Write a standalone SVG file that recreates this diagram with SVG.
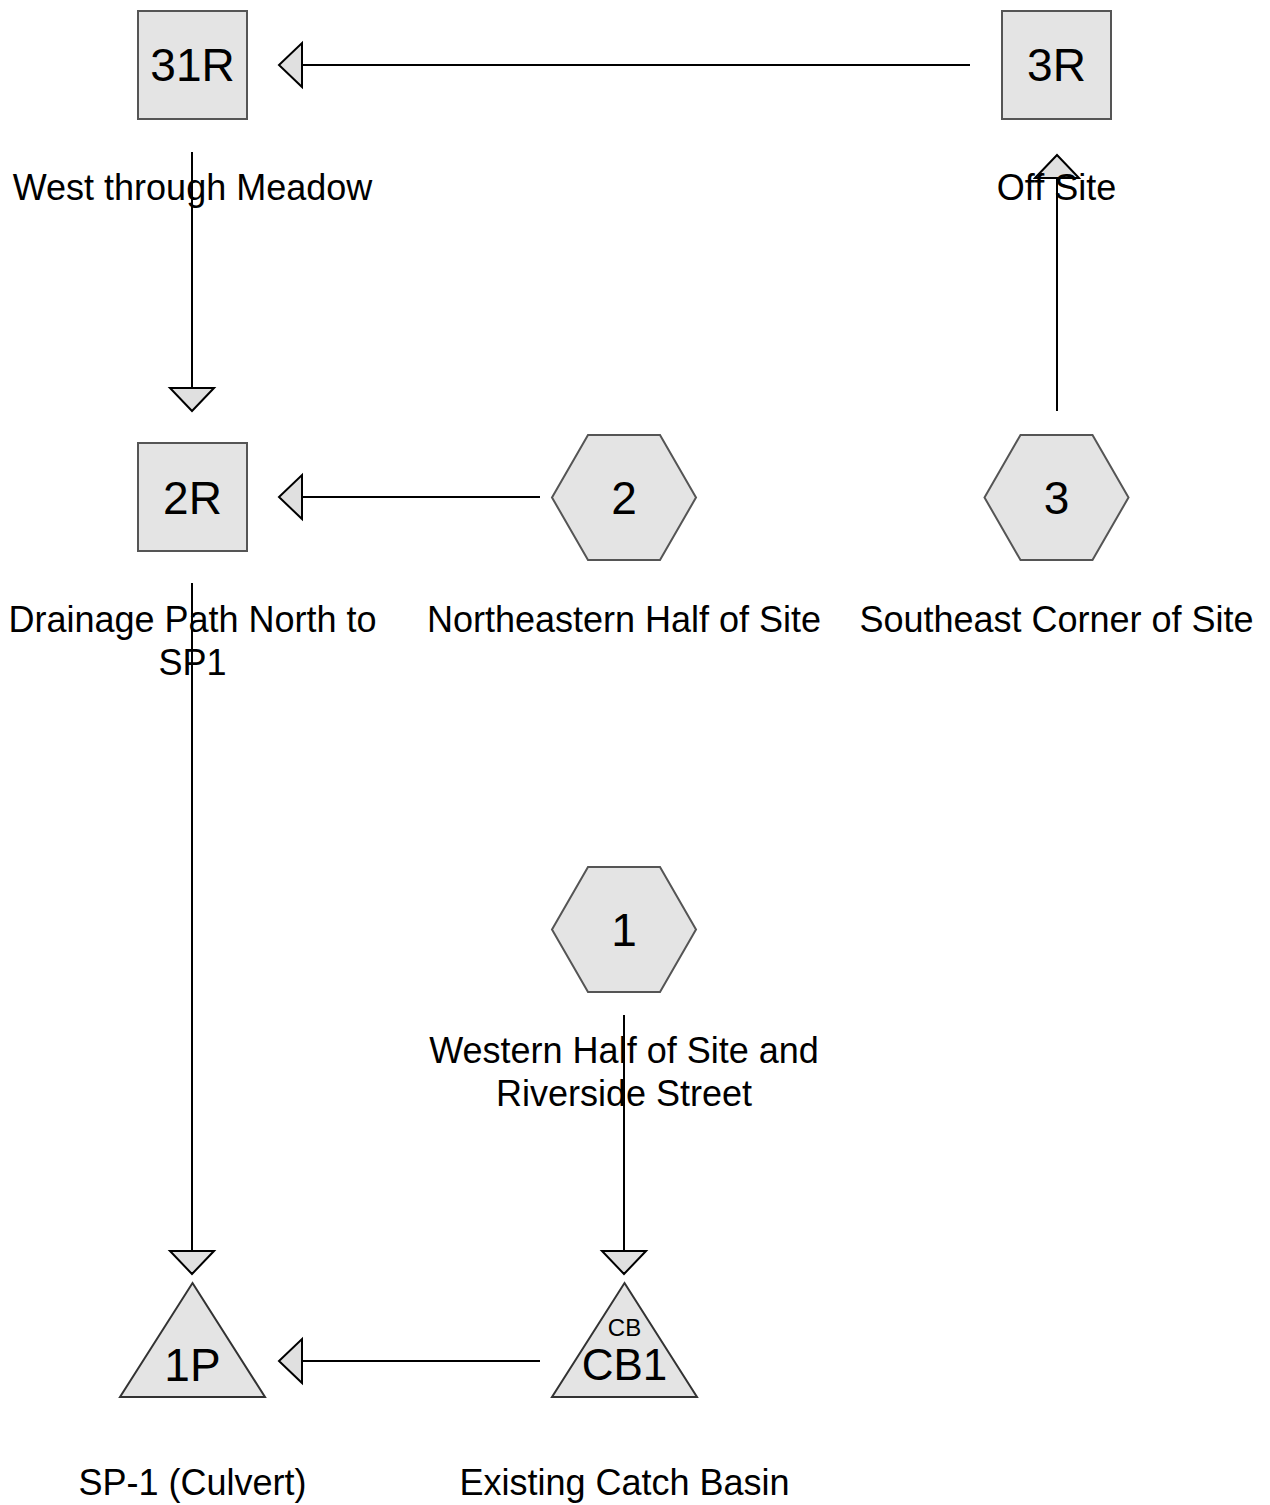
<svg xmlns="http://www.w3.org/2000/svg" width="1270" height="1505" viewBox="0 0 1270 1505">
<style>
.node{fill:#e4e4e4;stroke:#555;stroke-width:2}
.big{font-family:"Liberation Sans",Arial,sans-serif;font-size:46px;fill:#000;text-anchor:middle}
.small{font-family:"Liberation Sans",Arial,sans-serif;font-size:24px;fill:#000;text-anchor:middle}
.lbl{font-family:"Liberation Sans",Arial,sans-serif;font-size:36px;fill:#000;text-anchor:middle}
.edge{fill:none;stroke:#000;stroke-width:2}
</style>
<defs>
<marker id="arr" viewBox="0 0 23 44" refX="23" refY="22" markerWidth="23" markerHeight="44" markerUnits="userSpaceOnUse" orient="auto" overflow="visible">
<path d="M0,0 L23,22 L0,44 Z" fill="#e0e0e0" stroke="#000" stroke-width="2" stroke-linejoin="miter"/>
</marker>
</defs>
<rect width="1270" height="1505" fill="#fff"/>
<g id="connectors">
<path class="edge" d="M970,65 L279,65" marker-end="url(#arr)"/>
<path class="edge" d="M192,152 L192,411" marker-end="url(#arr)"/>
<path class="edge" d="M540,497 L279,497" marker-end="url(#arr)"/>
<path class="edge" d="M1057,411 L1057,155" marker-end="url(#arr)"/>
<path class="edge" d="M192,583 L192,1274" marker-end="url(#arr)"/>
<path class="edge" d="M624,1015 L624,1274" marker-end="url(#arr)"/>
<path class="edge" d="M540,1361 L279,1361" marker-end="url(#arr)"/>
</g>
<g id="node-31R">
<rect class="node" x="138" y="11" width="109" height="108"/>
<text class="big" x="192.5" y="81">31R</text>
<text class="lbl" x="192.5" y="200">West through Meadow</text>
</g>
<g id="node-3R">
<rect class="node" x="1002" y="11" width="109" height="108"/>
<text class="big" x="1056.5" y="81">3R</text>
<text class="lbl" x="1056.5" y="200">Off Site</text>
</g>
<g id="node-2R">
<rect class="node" x="138" y="443" width="109" height="108"/>
<text class="big" x="192.5" y="514">2R</text>
<text class="lbl" x="192.5" y="632">Drainage Path North to</text>
<text class="lbl" x="192.5" y="675">SP1</text>
</g>
<g id="node-2">
<polygon class="node" points="552,497.5 588,435 660,435 696,497.5 660,560 588,560"/>
<text class="big" x="624" y="514">2</text>
<text class="lbl" x="624" y="632">Northeastern Half of Site</text>
</g>
<g id="node-3">
<polygon class="node" points="984.5,497.5 1020.5,435 1092.5,435 1128.5,497.5 1092.5,560 1020.5,560"/>
<text class="big" x="1056.5" y="514">3</text>
<text class="lbl" x="1056.5" y="632">Southeast Corner of Site</text>
</g>
<g id="node-1">
<polygon class="node" points="552,929.5 588,867 660,867 696,929.5 660,992 588,992"/>
<text class="big" x="624" y="946">1</text>
<text class="lbl" x="624" y="1063">Western Half of Site and</text>
<text class="lbl" x="624" y="1106">Riverside Street</text>
</g>
<g id="node-1P">
<polygon class="node" points="192.5,1283 265,1397 120,1397" style="stroke:#333"/>
<text class="big" x="192.5" y="1381">1P</text>
<text class="lbl" x="192.5" y="1495">SP-1 (Culvert)</text>
</g>
<g id="node-CB1">
<polygon class="node" points="624.5,1283 697,1397 552,1397" style="stroke:#333"/>
<text class="small" x="624.5" y="1336">CB</text>
<text class="big" x="624.5" y="1380" style="font-size:44px">CB1</text>
<text class="lbl" x="624.5" y="1495">Existing Catch Basin</text>
</g>
</svg>
